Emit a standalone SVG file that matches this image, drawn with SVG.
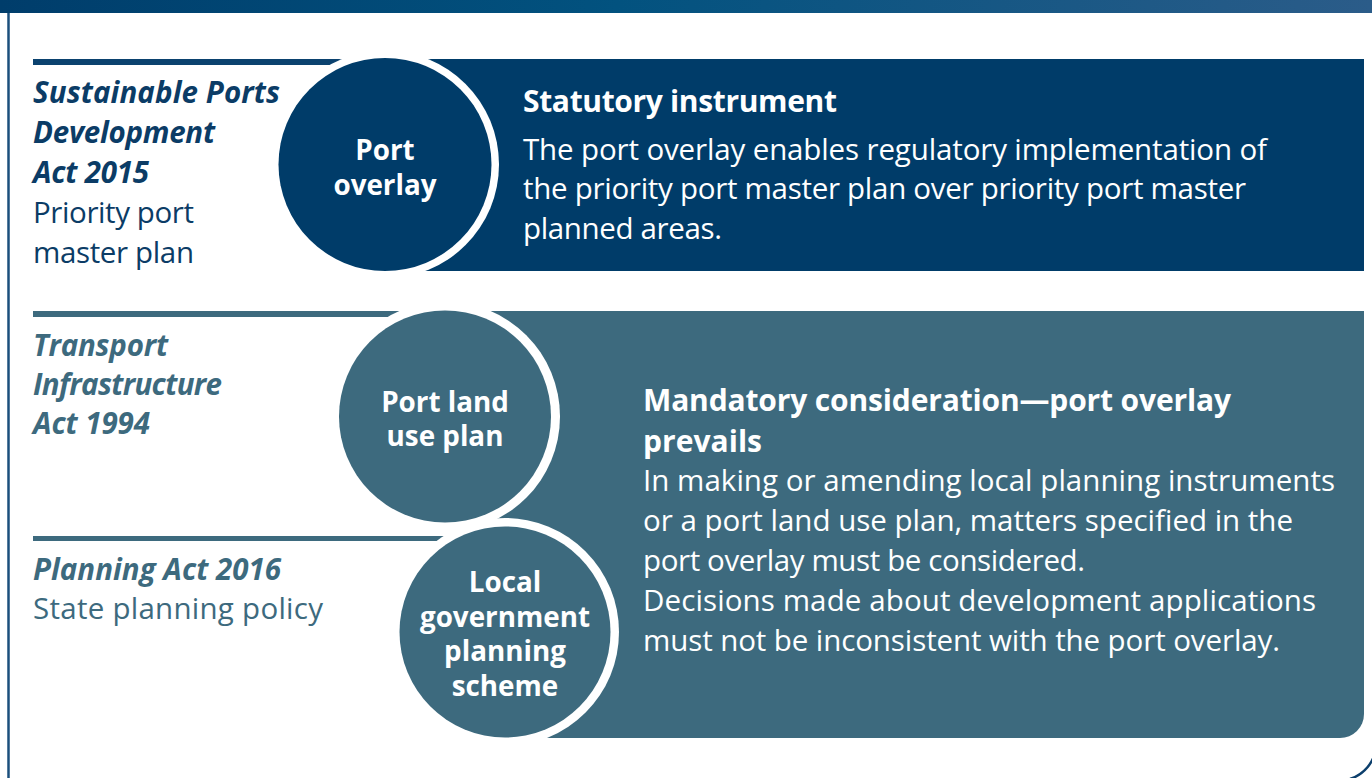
<svg xmlns="http://www.w3.org/2000/svg" width="1372" height="778" viewBox="0 0 1372 778">
<defs>
<linearGradient id="topbar" x1="0" y1="0" x2="1" y2="0">
<stop offset="0" stop-color="#003d6b"/>
<stop offset="0.45" stop-color="#02527f"/>
<stop offset="1" stop-color="#2b5c89"/>
</linearGradient>
<style>
.f{font-family:"Open Sans","Noto Sans","DejaVu Sans",sans-serif}
.bi{font-weight:700;font-style:italic;font-size:29.5px}
.rg{font-weight:400;font-size:29.5px}
.navy{fill:#0b3c66}
.teal{fill:#3d6a7e}
.cl{font-weight:700;font-size:27.8px;fill:#ffffff;text-anchor:middle}
.hd{font-weight:700;font-size:30px;fill:#ffffff}
.bd{font-weight:400;font-size:29.5px;fill:#ffffff}
.ring{fill:#ffffff}
</style>
</defs>
<rect x="0" y="0" width="1372" height="778" fill="#ffffff"/>
<g id="frame">
<rect x="0" y="0" width="1372" height="13" fill="url(#topbar)"/>
<path d="M8.5,13 V778" stroke="#1b4f7c" stroke-width="2.5" fill="none"/>
<path d="M1350,779 A38,38 0 0 0 1376,748" stroke="#0c3f6c" stroke-width="2.5" fill="none"/>
</g>
<g id="bands">
<rect x="33" y="59" width="320" height="6" fill="#0b426f"/>
<rect x="400" y="59" width="964" height="212" fill="#003c69"/>
<rect x="33" y="311" width="380" height="6" fill="#3d6a7e"/>
<path d="M470,311 H1364 V714 A24,24 0 0 1 1340,738 H470 Z" fill="#3d6a7e"/>
<rect x="33" y="536" width="430" height="5" fill="#3d6a7e"/>
</g>
<g id="node-port-overlay">
<circle cx="385" cy="164.5" r="114" class="ring"/>
<circle cx="385" cy="164.5" r="106.5" fill="#003c69"/>
<text class="f cl" x="385" y="160">Port</text>
<text class="f cl" x="385" y="195">overlay</text>
</g>
<g id="node-port-land-use-plan">
<circle cx="445" cy="416.5" r="115" class="ring"/>
<circle cx="445" cy="416.5" r="106" fill="#3d6a7e"/>
<text class="f cl" x="445" y="411.5">Port land</text>
<text class="f cl" x="445" y="446">use plan</text>
</g>
<g id="node-local-government-planning-scheme">
<circle cx="505" cy="632" r="114" class="ring"/>
<circle cx="505" cy="632" r="105.5" fill="#3d6a7e"/>
<text class="f cl" x="505" y="592">Local</text>
<text class="f cl" x="505" y="626.7">government</text>
<text class="f cl" x="505" y="661.3">planning</text>
<text class="f cl" x="505" y="696">scheme</text>
</g>
<g id="legislation-1">
<text class="f bi navy" x="33" y="103" textLength="247">Sustainable Ports</text>
<text class="f bi navy" x="33" y="143" textLength="182">Development</text>
<text class="f bi navy" x="33" y="183" textLength="116">Act 2015</text>
<text class="f rg navy" x="33" y="223" textLength="161">Priority port</text>
<text class="f rg navy" x="33" y="263" textLength="161">master plan</text>
</g>
<g id="legislation-2">
<text class="f bi teal" x="33" y="355.5" textLength="135">Transport</text>
<text class="f bi teal" x="33" y="394.5" textLength="189">Infrastructure</text>
<text class="f bi teal" x="33" y="433.5" textLength="117">Act 1994</text>
</g>
<g id="legislation-3">
<text class="f bi teal" x="33" y="580" textLength="248">Planning Act 2016</text>
<text class="f rg teal" x="33" y="619" textLength="290">State planning policy</text>
</g>
<g id="statutory-instrument">
<text class="f hd" x="523" y="112" textLength="314">Statutory instrument</text>
<text class="f bd" x="523" y="160" textLength="744">The port overlay enables regulatory implementation of</text>
<text class="f bd" x="523" y="199" textLength="723">the priority port master plan over priority port master</text>
<text class="f bd" x="523" y="238.5" textLength="199">planned areas.</text>
</g>
<g id="mandatory-consideration">
<text class="f hd" x="643" y="411" textLength="588">Mandatory consideration—port overlay</text>
<text class="f hd" x="643" y="452" textLength="119">prevails</text>
<text class="f bd" x="643" y="490.5" textLength="692">In making or amending local planning instruments</text>
<text class="f bd" x="643" y="530.5" textLength="650">or a port land use plan, matters specified in the</text>
<text class="f bd" x="643" y="570.5" textLength="442">port overlay must be considered.</text>
<text class="f bd" x="643" y="610.5" textLength="673">Decisions made about development applications</text>
<text class="f bd" x="643" y="650.5" textLength="637">must not be inconsistent with the port overlay.</text>
</g>
<g id="connectors"></g>
</svg>
